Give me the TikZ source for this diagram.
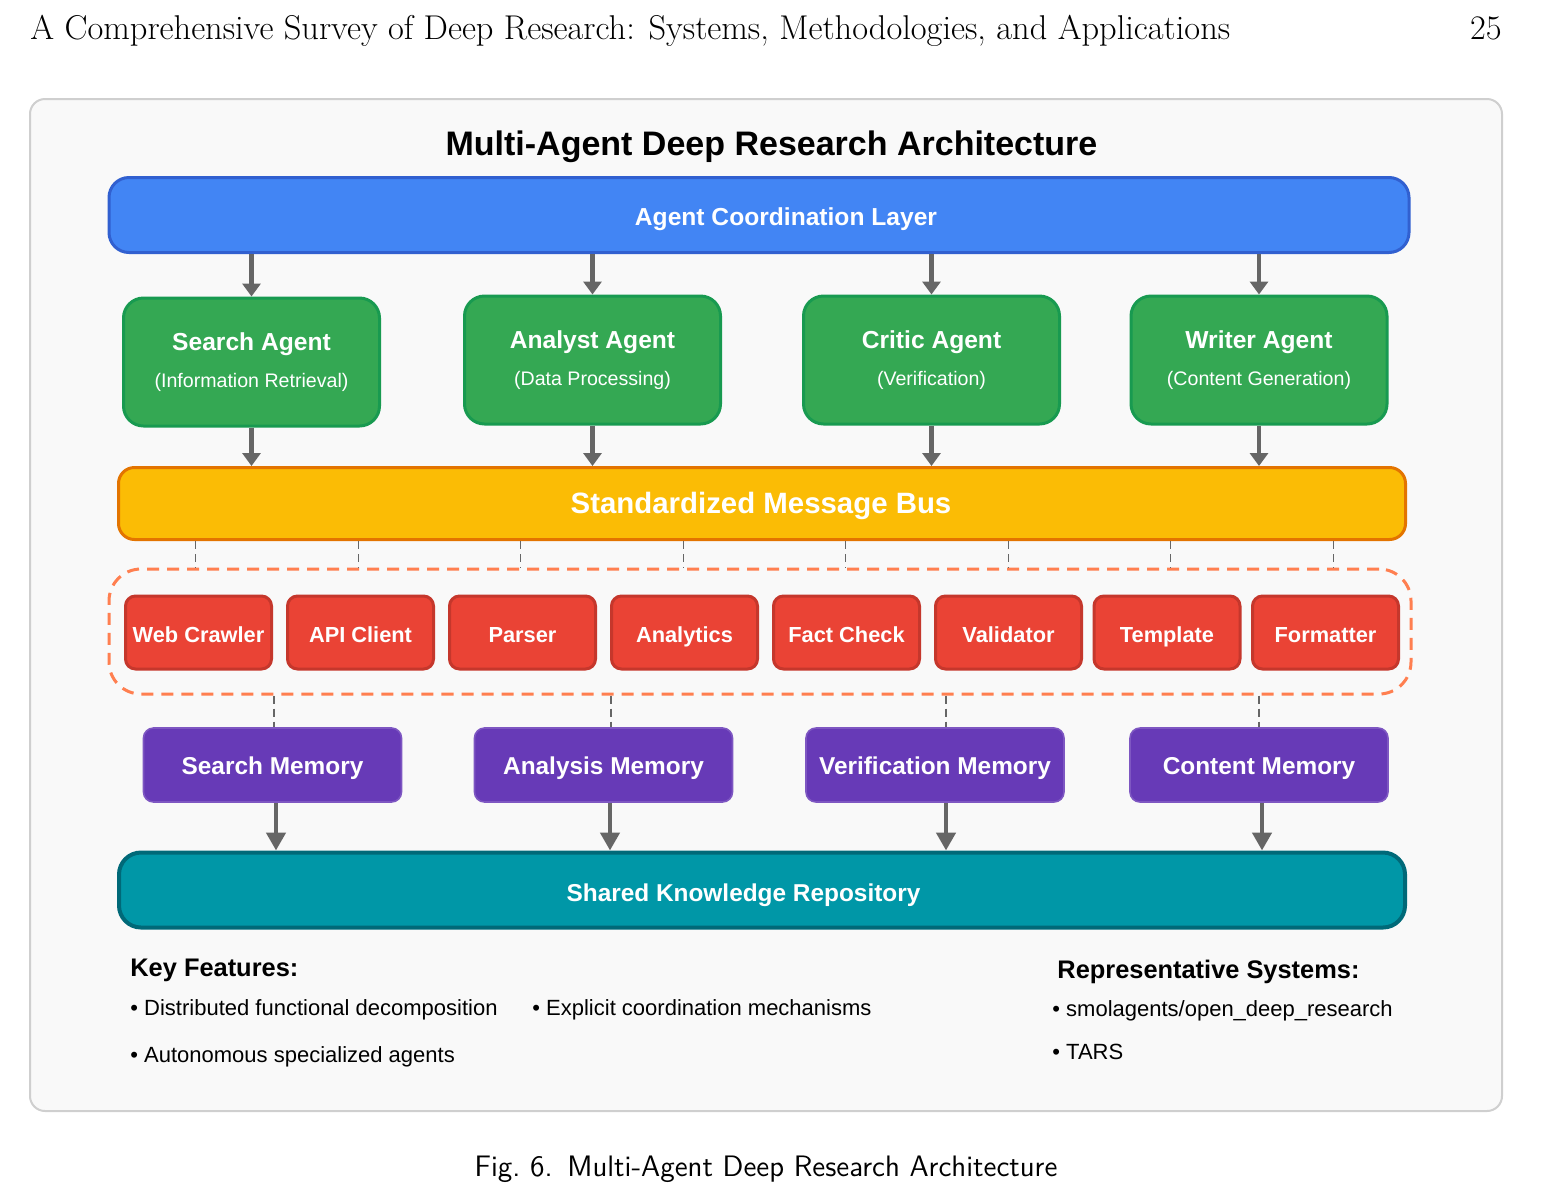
\documentclass[tikz,border=0pt]{standalone}
\usepackage{fontspec}
\newfontfamily\arial{Liberation Sans}
\usepackage{tikz}
\usetikzlibrary{shapes,arrows.meta}
\usetikzlibrary{positioning}

\definecolor{panelfill}{HTML}{F9F9F9}
\definecolor{panelline}{HTML}{CFCFCF}
\definecolor{coordfill}{HTML}{4285F4}
\definecolor{coordline}{HTML}{3160D0}
\definecolor{agentfill}{HTML}{34A853}
\definecolor{agentline}{HTML}{189A50}
\definecolor{busfill}{HTML}{FBBC05}
\definecolor{busline}{HTML}{E37400}
\definecolor{zoneline}{HTML}{FF7F50}
\definecolor{toolfill}{HTML}{EA4335}
\definecolor{toolline}{HTML}{C5372C}
\definecolor{memfill}{HTML}{673AB7}
\definecolor{memline}{HTML}{7E57C2}
\definecolor{repofill}{HTML}{0097A7}
\definecolor{repoline}{HTML}{006978}
\definecolor{flowgray}{HTML}{666666}

\begin{document}
\begin{tikzpicture}[x=0.5pt,y=-0.5pt,
every node/.style = {inner sep=0pt, font=\arial},
panel/.style = {draw=panelline, fill=panelfill, line width=1pt, rounded corners=7.5pt,
                minimum width=736pt, minimum height=506pt},
coordbox/.style = {draw=coordline, fill=coordfill, line width=1.5pt, rounded corners=10pt,
                   minimum width=650pt, minimum height=37.5pt},
agentbox/.style = {draw=agentline, fill=agentfill, line width=1.5pt, rounded corners=10pt,
                   minimum width=128pt, minimum height=64pt, text=white, align=center,
                   font=\arial\fontsize{12.3}{18.5}\selectfont},
busbox/.style = {draw=busline, fill=busfill, line width=1.5pt, rounded corners=8pt,
                 minimum width=643.5pt, minimum height=36pt},
zone/.style = {draw=zoneline, line width=1.5pt, dash pattern=on 6pt off 4pt,
               rounded corners=16pt, minimum width=651pt, minimum height=62.5pt},
toolbox/.style = {draw=toolline, fill=toolfill, line width=1.5pt, rounded corners=5pt,
                  minimum width=73pt, minimum height=36.5pt, text=white,
                  text height=11pt, text depth=1.5pt,
                  font=\arial\bfseries\fontsize{10.9}{13}\selectfont},
memorybox/.style = {draw=memline, fill=memfill, line width=0.8pt, rounded corners=5pt,
                    minimum width=129pt, minimum height=37pt, text=white,
                    text height=11.5pt, text depth=2.5pt,
                    font=\arial\bfseries\fontsize{12.2}{14}\selectfont},
repobox/.style = {draw=repoline, fill=repofill, line width=2pt, rounded corners=11pt,
                  minimum width=643pt, minimum height=37.5pt},
flow/.style = {draw=flowgray, line width=2.2pt, -{Triangle[length=6.5pt,width=9pt]}},
bigflow/.style = {draw=flowgray, line width=2.4pt, -{Triangle[length=9pt,width=9.5pt]}},
tap/.style = {draw=flowgray, line width=0.7pt, dash pattern=on 4pt off 2.5pt},
whitetext/.style = {text=white, anchor=base, font=\arial\bfseries\fontsize{#1}{14}\selectfont},
notes/.style = {anchor=base west, font=\arial\fontsize{11}{13}\selectfont},
notehead/.style = {anchor=base west, font=\arial\bfseries\fontsize{12.7}{15}\selectfont}]
\useasboundingbox (0,0) rectangle (1552,1195);

\node[anchor=base west, font=\rmfamily\fontsize{17.2}{20}\selectfont] (header) at (30,39)
     {A Comprehensive Survey of Deep Research: Systems, Methodologies, and Applications};
\node[anchor=base east, font=\rmfamily\fontsize{17.2}{20}\selectfont] (page) at (1502,39) {25};

\node[panel] (panel) at (766,605) {};
\node[anchor=base, font=\arial\bfseries\fontsize{17}{20}\selectfont] (title) at (771.5,155)
     {Multi-Agent Deep Research Architecture};

% coordination layer
\node[coordbox] (coord) at (759,215) {};
\node[whitetext=12.3] (coordtxt) at (786,225) {Agent Coordination Layer};

% agents
\node[agentbox] (search)  at (251.5,362) {\textbf{Search Agent}\\{\fontsize{9.8}{12}\selectfont (Information Retrieval)}};
\node[agentbox] (analyst) at (592.5,360) {\textbf{Analyst Agent}\\{\fontsize{9.8}{12}\selectfont (Data Processing)}};
\node[agentbox] (critic)  at (931.5,360) {\textbf{Critic Agent}\\{\fontsize{9.8}{12}\selectfont (Verification)}};
\node[agentbox] (writer)  at (1259,360)  {\textbf{Writer Agent}\\{\fontsize{9.8}{12}\selectfont (Content Generation)}};

\path[flow] (search.north |- coord.south)  -- (search.north);
\path[flow] (analyst.north |- coord.south) -- (analyst.north);
\path[flow] (critic.north |- coord.south)  -- (critic.north);
\path[flow] (writer.north |- coord.south)  -- (writer.north);

% message bus
\node[busbox] (bus) at (762,503.5) {};
\node[whitetext=14.7] (bustxt) at (761,513) {Standardized Message Bus};

\path[flow] (search.south)  -- (search.south |- bus.north);
\path[flow] (analyst.south) -- (analyst.south |- bus.north);
\path[flow] (critic.south)  -- (critic.south |- bus.north);
\path[flow] (writer.south)  -- (writer.south |- bus.north);

% tools
\node[zone] (zone) at (760,631.5) {};
\node[toolbox] (crawler)   at (198.5,632.5)  {Web Crawler};
\node[toolbox] (api)       at (360.5,632.5)  {API Client};
\node[toolbox] (parser)    at (522.5,632.5)  {Parser};
\node[toolbox] (analytics) at (684.5,632.5)  {Analytics};
\node[toolbox] (fact)      at (846.5,632.5)  {Fact Check};
\node[toolbox] (validator) at (1008.5,632.5) {Validator};
\node[toolbox] (template)  at (1167,632.5)   {Template};
\node[toolbox] (formatter) at (1325.5,632.5) {Formatter};

\coordinate (t1) at (195.7,541);
\coordinate (t2) at (358.2,541);
\coordinate (t3) at (520.7,541);
\coordinate (t4) at (683.2,541);
\coordinate (t5) at (845.7,541);
\coordinate (t6) at (1008.2,541);
\coordinate (t7) at (1170.7,541);
\coordinate (t8) at (1333.2,541);
\path[tap] (t1) -- (t1 |- zone.north);
\path[tap] (t2) -- (t2 |- zone.north);
\path[tap] (t3) -- (t3 |- zone.north);
\path[tap] (t4) -- (t4 |- zone.north);
\path[tap] (t5) -- (t5 |- zone.north);
\path[tap] (t6) -- (t6 |- zone.north);
\path[tap] (t7) -- (t7 |- zone.north);
\path[tap] (t8) -- (t8 |- zone.north);

% memories
\node[memorybox] (smem) at (272.5,765) {Search Memory};
\node[memorybox] (amem) at (603.5,765) {Analysis Memory};
\node[memorybox] (vmem) at (935,765)   {Verification Memory};
\node[memorybox] (cmem) at (1259,765)  {Content Memory};

\path[tap] ([xshift=0.75pt]smem.north |- zone.south) -- ([xshift=0.75pt]smem.north);
\path[tap] ([xshift=3.75pt]amem.north |- zone.south) -- ([xshift=3.75pt]amem.north);
\path[tap] ([xshift=5.5pt]vmem.north |- zone.south)  -- ([xshift=5.5pt]vmem.north);
\path[tap] (cmem.north |- zone.south) -- (cmem.north);

% repository
\node[repobox] (repo) at (762,890) {};
\node[whitetext=12.2] (repotxt) at (743.5,901) {Shared Knowledge Repository};

\path[bigflow] ([xshift=1.75pt]smem.south) -- ([xshift=1.75pt]smem.south |- repo.north);
\path[bigflow] ([xshift=3.25pt]amem.south) -- ([xshift=3.25pt]amem.south |- repo.north);
\path[bigflow] ([xshift=5.5pt]vmem.south)  -- ([xshift=5.5pt]vmem.south |- repo.north);
\path[bigflow] ([xshift=1.5pt]cmem.south)  -- ([xshift=1.5pt]cmem.south |- repo.north);

% notes
\node[notehead] (keyhead) at (130,976.5) {Key Features:};
\node[notes] (key1) at (130,1015)  {\textbullet\ Distributed functional decomposition};
\node[notes] (key2) at (532,1015)  {\textbullet\ Explicit coordination mechanisms};
\node[notes] (key3) at (130,1062)  {\textbullet\ Autonomous specialized agents};
\node[notehead] (syshead) at (1057,978) {Representative Systems:};
\node[notes] (sys1) at (1052,1016) {\textbullet\ smolagents/open\_deep\_research};
\node[notes] (sys2) at (1052,1059) {\textbullet\ TARS};

\node[anchor=base, font=\sffamily\fontsize{14.8}{17}\selectfont] (caption) at (766,1176)
     {Fig.~6.\enspace Multi-Agent Deep Research Architecture};
\end{tikzpicture}
\end{document}
